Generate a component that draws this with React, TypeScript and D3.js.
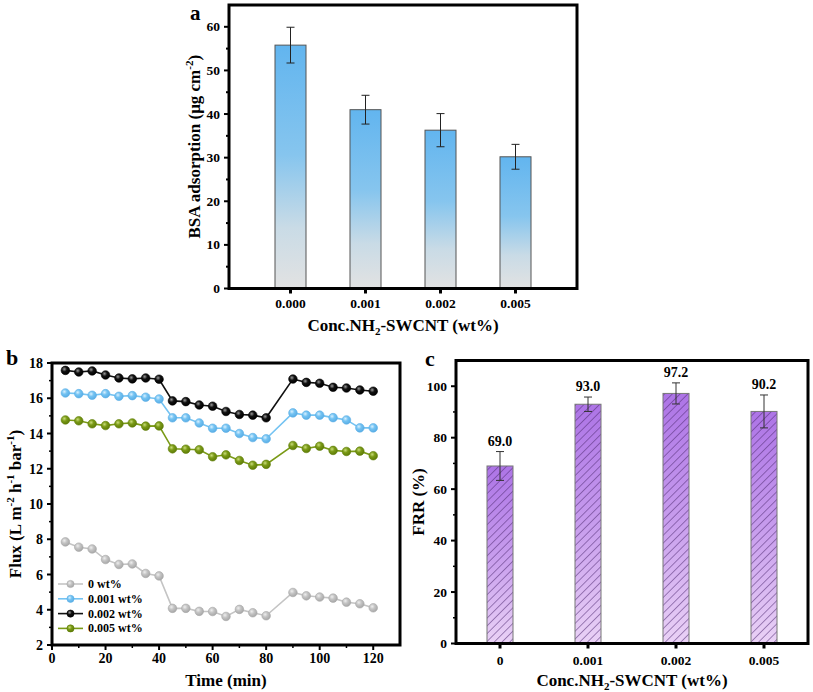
import React from "react";
import * as d3 from "d3";

// ---------- DATA ----------
const concA = ["0.000", "0.001", "0.002", "0.005"];
const bsaValues = [55.8, 41.0, 36.3, 30.2];
const bsaErrors = [4.1, 3.3, 3.8, 2.85];
const bsaTicks = [0, 10, 20, 30, 40, 50, 60];

const times = [5, 10, 15, 20, 25, 30, 35, 40, 45, 50, 55, 60, 65, 70, 75, 80, 90, 95, 100, 105, 110, 115, 120];
const flux0 = [7.85, 7.55, 7.45, 6.85, 6.57, 6.6, 6.06, 5.92, 4.08, 4.08, 3.91, 3.9, 3.62, 4.02, 3.83, 3.66, 4.98, 4.79, 4.72, 4.66, 4.43, 4.34, 4.11];
const flux001 = [16.3, 16.26, 16.17, 16.26, 16.11, 16.15, 16.06, 15.96, 14.89, 14.89, 14.6, 14.3, 14.3, 14.0, 13.77, 13.7, 15.17, 15.04, 15.04, 14.9, 14.77, 14.32, 14.32];
const flux002 = [17.58, 17.49, 17.55, 17.32, 17.15, 17.1, 17.15, 17.08, 15.85, 15.81, 15.62, 15.55, 15.25, 15.08, 15.04, 14.89, 17.09, 16.9, 16.85, 16.62, 16.58, 16.47, 16.4];
const flux005 = [14.77, 14.72, 14.55, 14.45, 14.55, 14.6, 14.42, 14.43, 13.13, 13.11, 13.08, 12.68, 12.79, 12.47, 12.2, 12.25, 13.32, 13.15, 13.28, 13.04, 12.98, 13.0, 12.74];
const seriesNames = ["0 wt%", "0.001 wt%", "0.002 wt%", "0.005 wt%"];
const fluxYTicks = [2, 4, 6, 8, 10, 12, 14, 16, 18];
const fluxXTicks = [0, 20, 40, 60, 80, 100, 120];

const concC = ["0", "0.001", "0.002", "0.005"];
const frrValues = [69.0, 93.0, 97.2, 90.2];
const frrErrors = [5.6, 2.8, 4.1, 6.4];
const frrTicks = [0, 20, 40, 60, 80, 100];

// ---------- STYLE ----------
const FONT = "'Liberation Serif', 'Times New Roman', serif";
const seriesStyle = [
  { line: "#c4c4c4", dark: "#a8a8a8", light: "#eeeeee" },
  { line: "#74c3f2", dark: "#5aaee6", light: "#d8f0ff" },
  { line: "#111111", dark: "#000000", light: "#9a9a9a" },
  { line: "#7a9a16", dark: "#5f7d08", light: "#c9dc7a" },
];

function Frame({ x0, x1, y0, y1 }: { x0: number; x1: number; y0: number; y1: number }) {
  return <rect x={x0} y={y0} width={x1 - x0} height={y1 - y0} fill="none" stroke="#000" strokeWidth={3} />;
}

function PanelA() {
  const L = 229, R = 577, T = 5, B = 288.5;
  const x = d3.scalePoint<string>().domain(concA).range([L, R]).padding(0.82);
  const y = d3.scaleLinear().domain([0, 65]).range([B, T]);
  const bw = 31;
  const minor = d3.range(5, 65, 10);
  return (
    <g>
      <defs>
        <linearGradient id="gradA" x1="0" y1="0" x2="0" y2="1">
          <stop offset="0" stopColor="#62b5ef" />
          <stop offset="0.45" stopColor="#86c5ee" />
          <stop offset="0.75" stopColor="#c9dbe6" />
          <stop offset="1" stopColor="#e2e2e2" />
        </linearGradient>
      </defs>
      {concA.map((c, i) => {
        const cx = x(c)!;
        return (
          <g key={c}>
            <rect x={cx - bw / 2} y={y(bsaValues[i])} width={bw} height={B - y(bsaValues[i])} fill="url(#gradA)" stroke="#555" strokeWidth={1} />
            <line x1={cx} x2={cx} y1={y(bsaValues[i] - bsaErrors[i])} y2={y(bsaValues[i] + bsaErrors[i])} stroke="#222" strokeWidth={1} />
            <line x1={cx - 4} x2={cx + 4} y1={y(bsaValues[i] + bsaErrors[i])} y2={y(bsaValues[i] + bsaErrors[i])} stroke="#222" strokeWidth={1} />
            <line x1={cx - 4} x2={cx + 4} y1={y(bsaValues[i] - bsaErrors[i])} y2={y(bsaValues[i] - bsaErrors[i])} stroke="#222" strokeWidth={1} />
            <line x1={cx} x2={cx} y1={B} y2={B + 5} stroke="#000" strokeWidth={3} />
            <text x={cx} y={308} textAnchor="middle" fontSize={13.5} fontWeight="bold" fontFamily={FONT}>{c}</text>
          </g>
        );
      })}
      {bsaTicks.map((t) => (
        <g key={t}>
          <line x1={L - 5} x2={L} y1={y(t)} y2={y(t)} stroke="#000" strokeWidth={2} />
          <text x={L - 9} y={y(t) + 4.5} textAnchor="end" fontSize={13.5} fontWeight="bold" fontFamily={FONT}>{t}</text>
        </g>
      ))}
      {minor.map((t) => (
        <line key={t} x1={L - 3} x2={L} y1={y(t)} y2={y(t)} stroke="#000" strokeWidth={2} />
      ))}
      <Frame x0={L} x1={R} y0={T} y1={B} />
      <text x={(L + R) / 2} y={331} textAnchor="middle" fontSize={17} fontWeight="bold" fontFamily={FONT}>
        Conc.NH<tspan fontSize={11} dy={4}>2</tspan><tspan dy={-4}>-SWCNT (wt%)</tspan>
      </text>
      <text transform={`translate(200,${(T + B) / 2}) rotate(-90)`} textAnchor="middle" fontSize={17} fontWeight="bold" fontFamily={FONT}>
        BSA adsorption (μg cm<tspan fontSize={11} dy={-7}>-2</tspan><tspan dy={7}>)</tspan>
      </text>
      <text x={190} y={20} fontSize={21} fontWeight="bold" fontFamily={FONT}>a</text>
    </g>
  );
}

function PanelB() {
  const L = 52, R = 400, T = 363, B = 645;
  const x = d3.scaleLinear().domain([0, 130]).range([L, R]);
  const y = d3.scaleLinear().domain([2, 18]).range([B, T]);
  const allSeries = [flux0, flux001, flux002, flux005];
  const line = d3.line<number>().x((_, i) => x(times[i])).y((v) => y(v));
  const yMinor = d3.range(3, 18, 2);
  const xMinor = d3.range(10, 130, 20);
  return (
    <g>
      <defs>
        {seriesStyle.map((s, i) => (
          <radialGradient key={i} id={`mk${i}`} cx="0.38" cy="0.35" r="0.65">
            <stop offset="0" stopColor={s.light} />
            <stop offset="0.45" stopColor={s.line} />
            <stop offset="1" stopColor={s.dark} />
          </radialGradient>
        ))}
      </defs>
      {allSeries.map((ser, si) => (
        <g key={si}>
          <path d={line(ser)!} fill="none" stroke={seriesStyle[si].line} strokeWidth={1.6} />
          {ser.map((v, i) => (
            <circle key={i} cx={x(times[i])} cy={y(v)} r={4.3} fill={`url(#mk${si})`} stroke={seriesStyle[si].dark} strokeWidth={0.6} />
          ))}
        </g>
      ))}
      {seriesNames.map((n, i) => {
        const ly = 584 + i * 14.8;
        return (
          <g key={n}>
            <line x1={58} x2={83} y1={ly} y2={ly} stroke={seriesStyle[i].line} strokeWidth={1.6} />
            <circle cx={70.5} cy={ly} r={3.6} fill={`url(#mk${i})`} stroke={seriesStyle[i].dark} strokeWidth={0.6} />
            <text x={88} y={ly + 4} fontSize={12} fontWeight="bold" fontFamily={FONT}>{n}</text>
          </g>
        );
      })}
      {fluxYTicks.map((t) => (
        <g key={t}>
          <line x1={L - 5} x2={L} y1={y(t)} y2={y(t)} stroke="#000" strokeWidth={2} />
          <text x={L - 9} y={y(t) + 5} textAnchor="end" fontSize={14} fontWeight="bold" fontFamily={FONT}>{t}</text>
        </g>
      ))}
      {yMinor.map((t) => (
        <line key={t} x1={L - 3} x2={L} y1={y(t)} y2={y(t)} stroke="#000" strokeWidth={1.5} />
      ))}
      {fluxXTicks.map((t) => (
        <g key={t}>
          <line x1={x(t)} x2={x(t)} y1={B} y2={B + 5} stroke="#000" strokeWidth={2} />
          <text x={x(t)} y={663} textAnchor="middle" fontSize={14} fontWeight="bold" fontFamily={FONT}>{t}</text>
        </g>
      ))}
      {xMinor.map((t) => (
        <line key={t} x1={x(t)} x2={x(t)} y1={B} y2={B + 3} stroke="#000" strokeWidth={1.5} />
      ))}
      <Frame x0={L} x1={R} y0={T} y1={B} />
      <text x={(L + R) / 2} y={686} textAnchor="middle" fontSize={17} fontWeight="bold" fontFamily={FONT}>Time (min)</text>
      <text transform={`translate(21,${(T + B) / 2}) rotate(-90)`} textAnchor="middle" fontSize={17} fontWeight="bold" fontFamily={FONT}>
        Flux (L m<tspan fontSize={11} dy={-7}>-2</tspan><tspan dy={7}> h</tspan><tspan fontSize={11} dy={-7}>-1</tspan><tspan dy={7}> bar</tspan><tspan fontSize={11} dy={-7}>-1</tspan><tspan dy={7}>)</tspan>
      </text>
      <text x={6} y={365} fontSize={22} fontWeight="bold" fontFamily={FONT}>b</text>
    </g>
  );
}

function PanelC() {
  const L = 456, R = 808, T = 360.5, B = 643.5;
  const x = d3.scalePoint<string>().domain(concC).range([L, R]).padding(0.5);
  const y = d3.scaleLinear().domain([0, 110]).range([B, T]);
  const bw = 26;
  const minor = d3.range(10, 110, 20);
  return (
    <g>
      <defs>
        <linearGradient id="gradC" x1="0" y1="0" x2="0" y2="1">
          <stop offset="0" stopColor="#ad74e6" />
          <stop offset="0.5" stopColor="#c79ced" />
          <stop offset="1" stopColor="#ead2f6" />
        </linearGradient>
        <pattern id="hatchC" patternUnits="userSpaceOnUse" width={5.5} height={5.5} patternTransform="rotate(45)">
          <line x1={0} y1={0} x2={0} y2={5.5} stroke="#4e2a72" strokeWidth={1} />
        </pattern>
      </defs>
      {concC.map((c, i) => {
        const cx = x(c)!;
        const top = y(frrValues[i]);
        const eTop = y(frrValues[i] + frrErrors[i]);
        const eBot = y(frrValues[i] - frrErrors[i]);
        return (
          <g key={c}>
            <rect x={cx - bw / 2} y={top} width={bw} height={B - top} fill="url(#gradC)" />
            <rect x={cx - bw / 2} y={top} width={bw} height={B - top} fill="url(#hatchC)" stroke="#777" strokeWidth={1} />
            <line x1={cx} x2={cx} y1={eBot} y2={eTop} stroke="#333" strokeWidth={1} />
            <line x1={cx - 4} x2={cx + 4} y1={eTop} y2={eTop} stroke="#333" strokeWidth={1} />
            <line x1={cx - 4} x2={cx + 4} y1={eBot} y2={eBot} stroke="#333" strokeWidth={1} />
            <text x={cx} y={eTop - 6} textAnchor="middle" fontSize={14} fontWeight="bold" fontFamily={FONT}>{frrValues[i].toFixed(1)}</text>
            <line x1={cx} x2={cx} y1={B} y2={B + 5} stroke="#000" strokeWidth={3} />
            <text x={cx} y={665} textAnchor="middle" fontSize={13.5} fontWeight="bold" fontFamily={FONT}>{c}</text>
          </g>
        );
      })}
      {frrTicks.map((t) => (
        <g key={t}>
          <line x1={L - 5} x2={L} y1={y(t)} y2={y(t)} stroke="#000" strokeWidth={2} />
          <text x={L - 9} y={y(t) + 4.5} textAnchor="end" fontSize={13.5} fontWeight="bold" fontFamily={FONT}>{t}</text>
        </g>
      ))}
      {minor.map((t) => (
        <line key={t} x1={L - 3} x2={L} y1={y(t)} y2={y(t)} stroke="#000" strokeWidth={1.5} />
      ))}
      <Frame x0={L} x1={R} y0={T} y1={B} />
      <text x={(L + R) / 2} y={686} textAnchor="middle" fontSize={17} fontWeight="bold" fontFamily={FONT}>
        Conc.NH<tspan fontSize={11} dy={4}>2</tspan><tspan dy={-4}>-SWCNT (wt%)</tspan>
      </text>
      <text transform={`translate(424,${(T + B) / 2}) rotate(-90)`} textAnchor="middle" fontSize={17} fontWeight="bold" fontFamily={FONT}>FRR (%)</text>
      <text x={425} y={366} fontSize={22} fontWeight="bold" fontFamily={FONT}>c</text>
    </g>
  );
}

export default function App() {
  return (
    <svg width={813} height={692} style={{ position: "absolute", left: 0, top: 0, background: "#fff" }}>
      <rect width={813} height={692} fill="#fff" />
      <PanelA />
      <PanelB />
      <PanelC />
    </svg>
  );
}
